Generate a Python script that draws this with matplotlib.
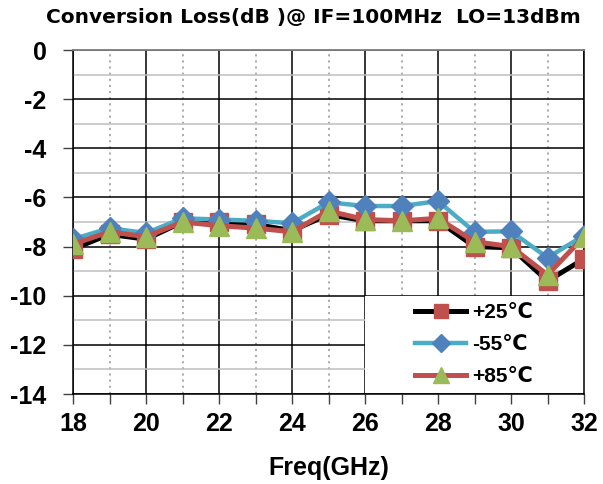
import matplotlib
matplotlib.use("Agg")
import matplotlib.pyplot as plt
from matplotlib.patches import Rectangle
from matplotlib.ticker import MultipleLocator

freq = [18, 19, 20, 21, 22, 23, 24, 25, 26, 27, 28, 29, 30, 31, 32]
loss_p25 = [-8.1, -7.5, -7.7, -7.0, -7.0, -7.1, -7.35, -6.7, -6.95, -6.95, -6.95, -8.0, -8.05, -9.4, -8.5]
loss_m55 = [-7.7, -7.25, -7.45, -6.85, -6.9, -6.95, -7.05, -6.2, -6.35, -6.35, -6.15, -7.4, -7.38, -8.45, -7.55]
loss_p85 = [-7.9, -7.4, -7.6, -7.0, -7.15, -7.25, -7.4, -6.55, -6.9, -6.95, -6.85, -7.8, -8.0, -9.15, -7.6]
labels = ["+25℃", "-55℃", "+85℃"]
title = "Conversion Loss(dB )@ IF=100MHz  LO=13dBm"
xlabel = "Freq(GHz)"

plt.rcParams['font.family'] = ['Liberation Sans', 'DejaVu Sans']
plt.rcParams['axes.unicode_minus'] = False

fig = plt.figure(figsize=(6.03, 4.84), dpi=100)
ax = fig.add_axes([73/603, 1-394/484, (584-73)/603, (394-50)/484])

ax.plot(freq, loss_p25, color='black', lw=3.6, marker='s', ms=13,
        mfc='#C0504D', mec='#C0504D', label=labels[0], zorder=3)
ax.plot(freq, loss_m55, color='#4BACC6', lw=3.2, marker='D', ms=11,
        mfc='#4F81BD', mec='#4F81BD', label=labels[1], zorder=4)
ax.plot(freq, loss_p85, color='#C0504D', lw=3.6, marker='^', ms=15,
        mfc='#9BBB59', mec='#9BBB59', label=labels[2], zorder=5)

ax.set_xlim(18, 32)
ax.set_ylim(-14, 0)
ax.xaxis.set_major_locator(MultipleLocator(2))
ax.xaxis.set_minor_locator(MultipleLocator(1))
ax.yaxis.set_major_locator(MultipleLocator(2))
ax.yaxis.set_minor_locator(MultipleLocator(1))

ax.grid(which='major', axis='both', color='black', lw=1.1, zorder=1)
ax.grid(which='minor', axis='y', color='#BFBFBF', lw=1.1, zorder=0.9)
ax.grid(which='minor', axis='x', color='#A6A6A6', lw=1.3, ls=(0, (1.2, 2.2)), zorder=0.9)
ax.set_axisbelow(True)

for s in ['left', 'bottom', 'right']:
    ax.spines[s].set_color('black')
    ax.spines[s].set_linewidth(1.1)
ax.spines['top'].set_color('#7F7F7F')
ax.spines['top'].set_linewidth(1.3)

ax.tick_params(axis='x', which='both', direction='out', length=7, width=1, color='#404040')
ax.tick_params(axis='y', which='major', direction='out', length=7, width=1, color='#404040')
ax.tick_params(axis='y', which='minor', length=0)
ax.tick_params(axis='x', which='major', labelsize=18, pad=6)
ax.tick_params(axis='y', which='major', labelsize=18, pad=12)
for lab in ax.get_xticklabels() + ax.get_yticklabels():
    lab.set_fontweight('bold')

ax.add_patch(Rectangle((292/511, 1/344), 219/511, 97/344, transform=ax.transAxes,
                       facecolor='white', edgecolor='none', zorder=2))

leg = ax.legend(loc='upper left', bbox_to_anchor=((415-73)/511, (394-303)/344), frameon=False,
                handlelength=2.45, handletextpad=0.3, labelspacing=0.62, borderpad=0,
                markerscale=0.8,
                prop={'size': 15, 'weight': 'bold'}, borderaxespad=0)
leg.set_zorder(6)

ax.set_xlabel(xlabel, fontsize=18, fontweight='bold', labelpad=14)
fig.text(313/603, 1-18/484, title, ha='center', va='center', fontsize=14.5,
         fontweight='bold', family=['DejaVu Sans'])

fig.savefig('out.png', dpi=100)
